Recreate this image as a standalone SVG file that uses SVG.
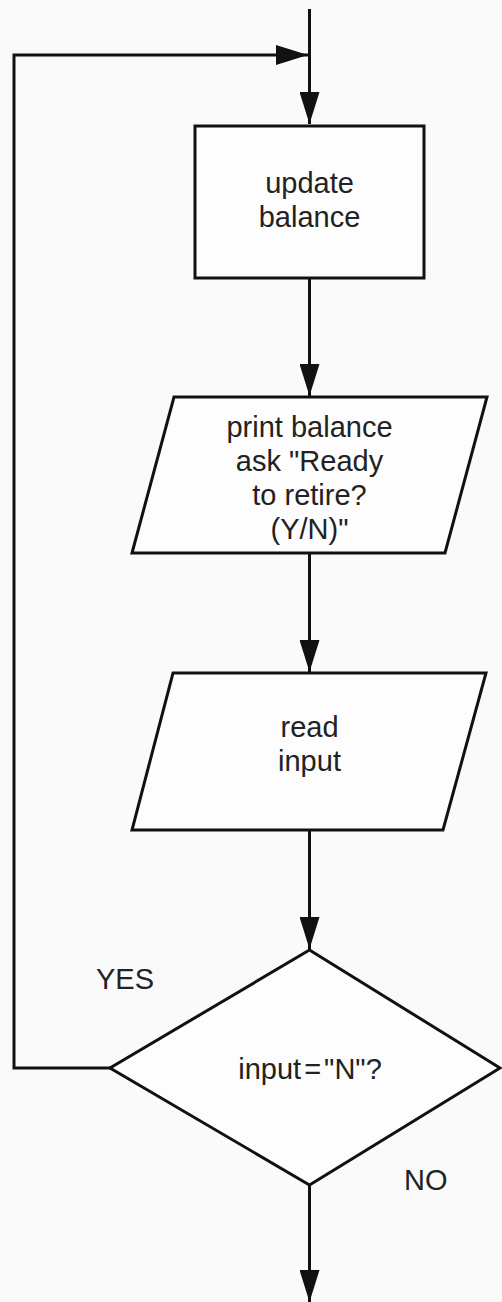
<svg xmlns="http://www.w3.org/2000/svg" width="502" height="1302" viewBox="0 0 502 1302">
<style>
.shape{fill:#fdfdfd;stroke:#111;stroke-width:3;stroke-linejoin:miter}
.conn{fill:none;stroke:#111;stroke-width:3}
.lbl{font-family:"Liberation Sans",Arial,sans-serif;font-size:29px;fill:#222;text-anchor:middle}
.edge{font-family:"Liberation Sans",Arial,sans-serif;font-size:29px;fill:#222}
</style>
<defs>
<marker id="arr" markerUnits="userSpaceOnUse" markerWidth="32" markerHeight="20" refX="32" refY="10" orient="auto">
<path d="M0,0 L32,10 L0,20 z" fill="#111"/>
</marker>
</defs>
<rect x="0" y="0" width="502" height="1302" fill="#fafafa"/>
<g id="connectors">
<path class="conn" d="M309.5,9 V124" marker-end="url(#arr)"/>
<path class="conn" d="M110,1068 H14 V55 H308" marker-end="url(#arr)"/>
<path class="conn" d="M309.5,278 V396" marker-end="url(#arr)"/>
<path class="conn" d="M309.5,553 V672" marker-end="url(#arr)"/>
<path class="conn" d="M309.5,830 V949" marker-end="url(#arr)"/>
<path class="conn" d="M309.5,1185 V1302" marker-end="url(#arr)"/>
<text class="edge" x="96" y="989">YES</text>
<text class="edge" x="404" y="1190">NO</text>
</g>
<g id="update">
<rect class="shape" x="195" y="126" width="229" height="152"/>
<text class="lbl" x="309.5" y="193">update</text>
<text class="lbl" x="309.5" y="227">balance</text>
</g>
<g id="print">
<polygon class="shape" points="174,397 487,397 445,553 132,553"/>
<text class="lbl" x="309.5" y="437">print balance</text>
<text class="lbl" x="309.5" y="471">ask "Ready</text>
<text class="lbl" x="309.5" y="505">to retire?</text>
<text class="lbl" x="309.5" y="539">(Y/N)"</text>
</g>
<g id="read">
<polygon class="shape" points="173,673 486,673 443,830 132,830"/>
<text class="lbl" x="309.5" y="737">read</text>
<text class="lbl" x="309.5" y="771">input</text>
</g>
<g id="decision">
<polygon class="shape" points="309.5,950 500,1068 309.5,1185 110,1068"/>
<text class="lbl" x="310" y="1079" word-spacing="-5">input = "N"?</text>
</g>
</svg>
